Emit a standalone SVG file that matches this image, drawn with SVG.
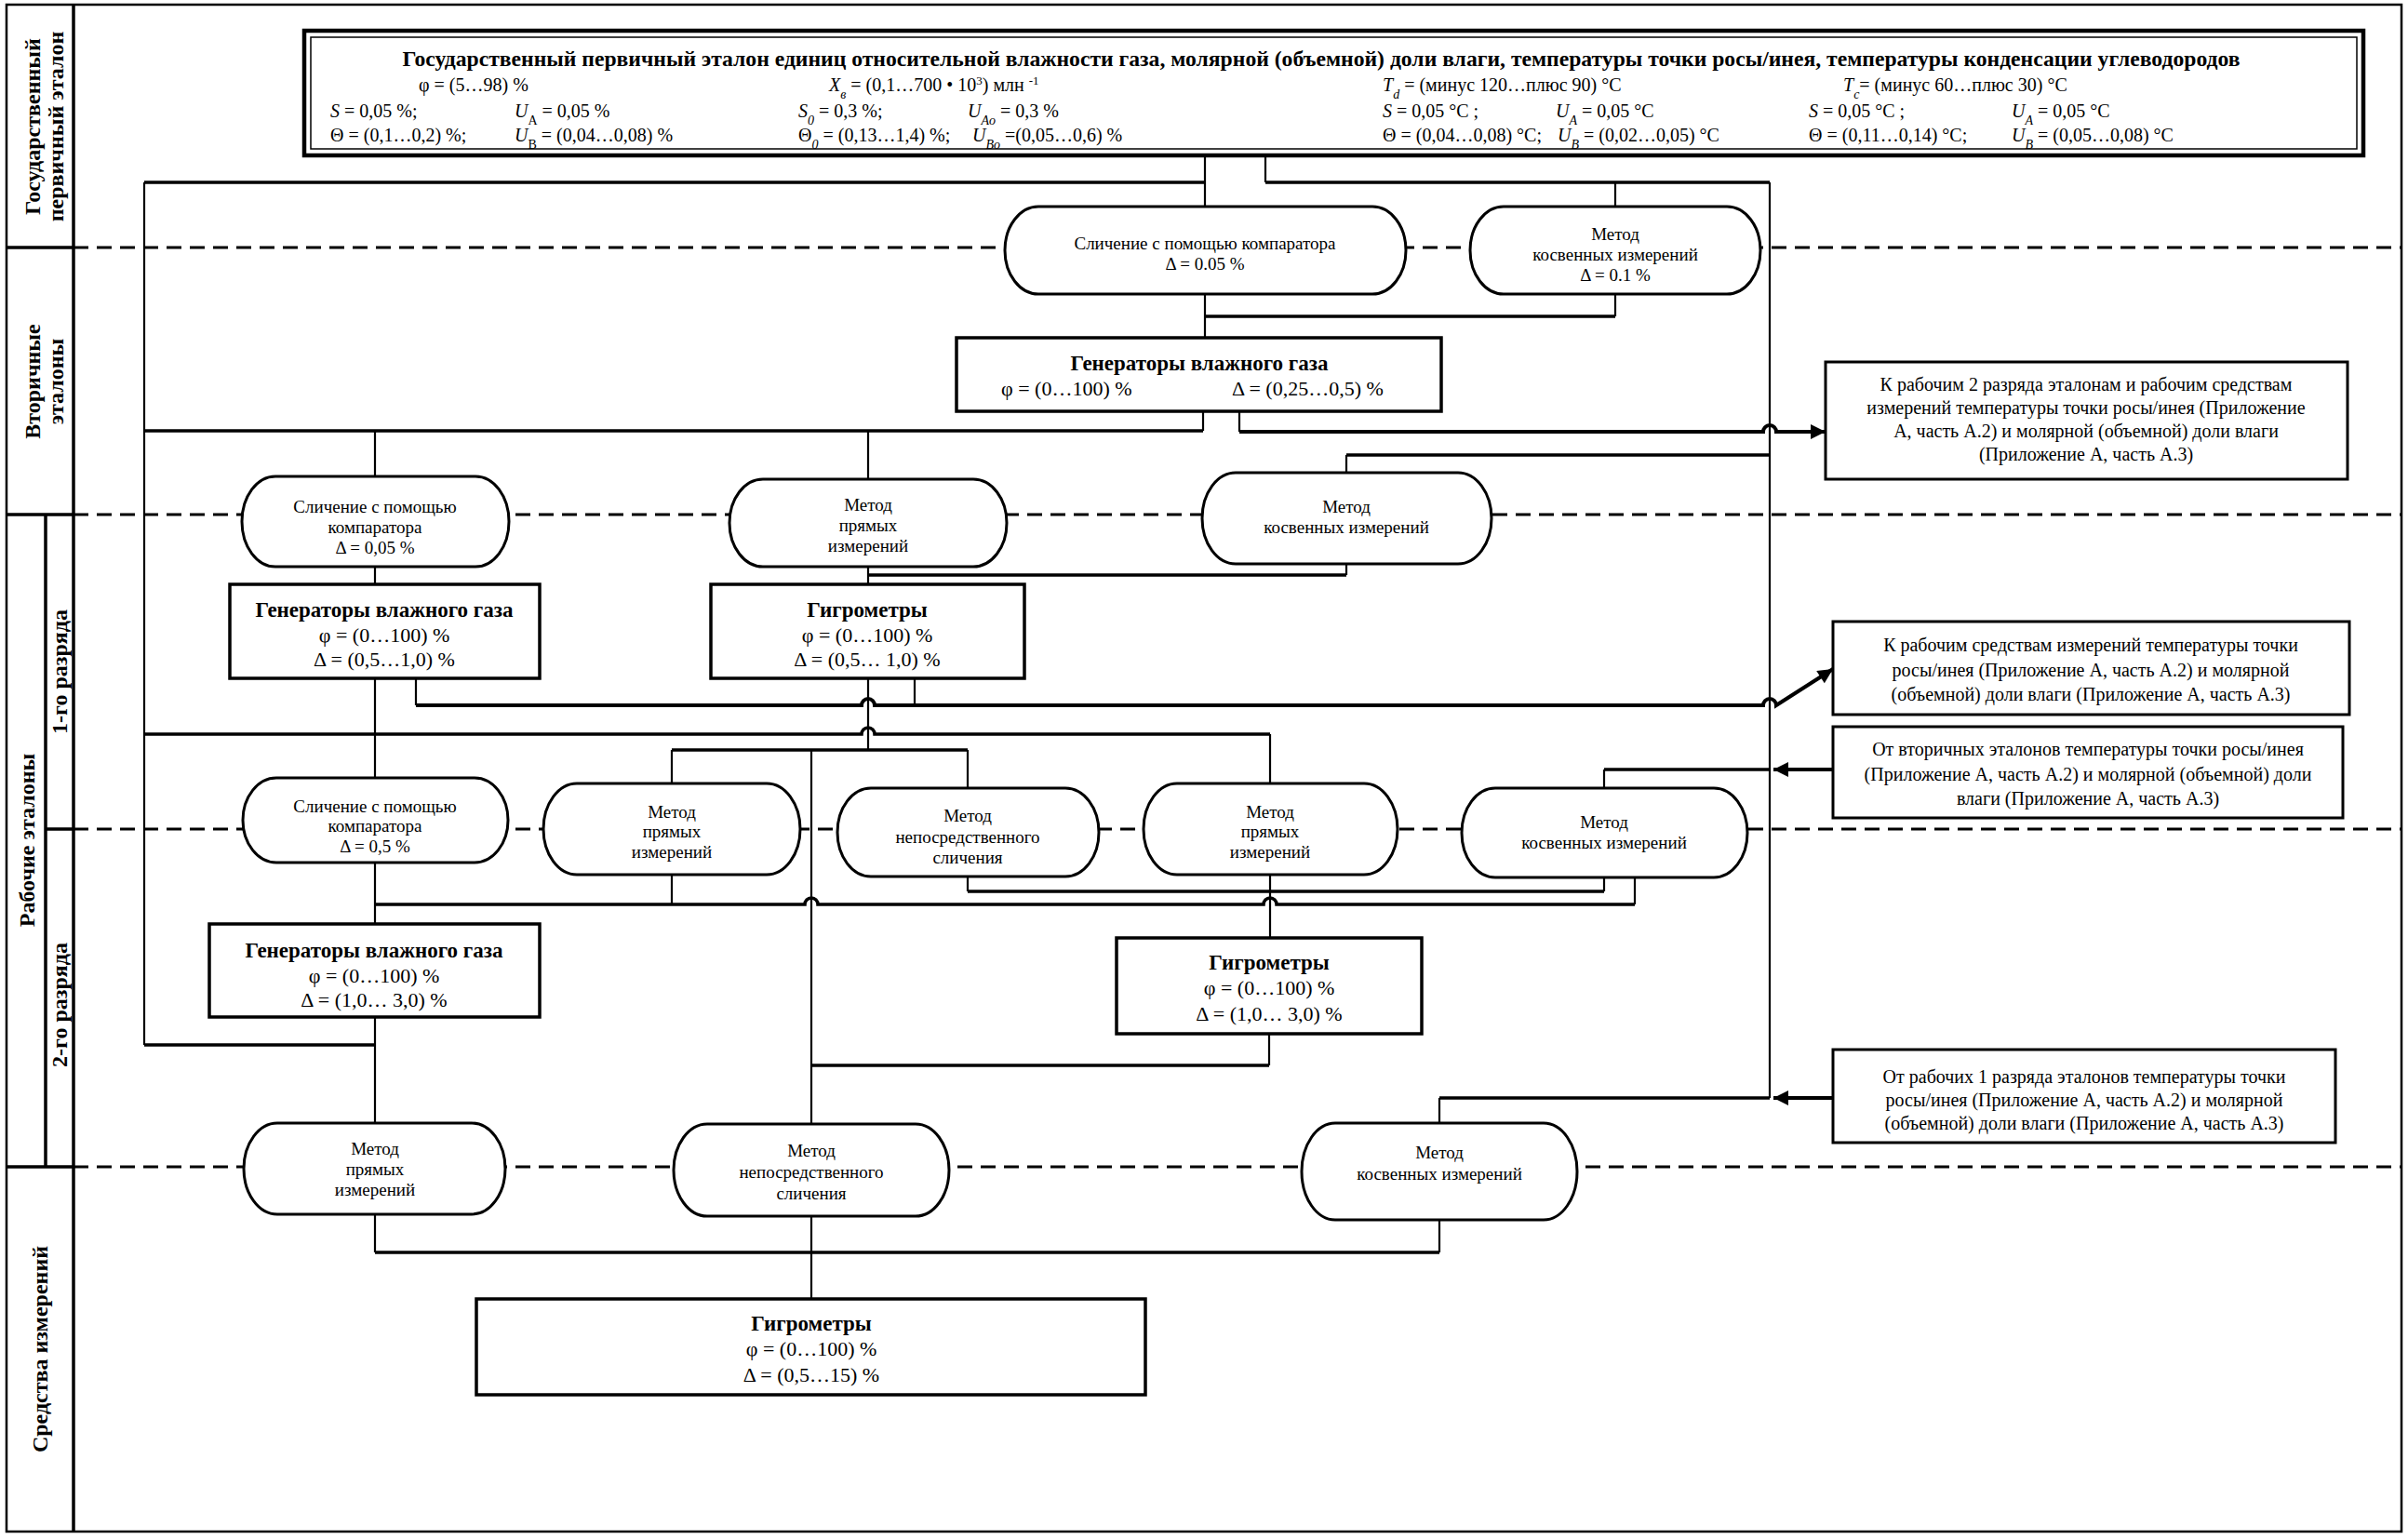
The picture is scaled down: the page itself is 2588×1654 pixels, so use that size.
<svg xmlns="http://www.w3.org/2000/svg" width="2588" height="1654" viewBox="0 0 2588 1654">
<style>
text{font-family:"Liberation Serif","Times New Roman",serif;fill:#000}
.h{font-size:20px}
.hb{font-size:23px;font-weight:bold}
.o{font-size:19px;text-anchor:middle}
.bt{font-size:23px;font-weight:bold;text-anchor:middle}
.bv{font-size:22px;text-anchor:middle}
.r{font-size:20px;text-anchor:middle}
.lab{font-size:24px;font-weight:bold;text-anchor:middle}
.i{font-style:italic}
.sub{baseline-shift:sub;font-size:14px}
.sup{baseline-shift:super;font-size:13px}
.frame{fill:none;stroke:#000;stroke-width:2.5}
.col{fill:none;stroke:#000;stroke-width:3.5}
.dash{fill:none;stroke:#000;stroke-width:3;stroke-dasharray:16 9}
.oval{fill:#fff;stroke:#000;stroke-width:3}
.box{fill:#fff;stroke:#000;stroke-width:3.5}
.rbox{fill:#fff;stroke:#000;stroke-width:3}
.ch{fill:none;stroke:#000;stroke-width:3.5}
.cv{fill:none;stroke:#000;stroke-width:2.2}
.ar{fill:none;stroke:#000;stroke-width:4}
</style>
<defs>
<marker id="arr" viewBox="0 0 10 10" refX="10" refY="5" markerWidth="20" markerHeight="16" markerUnits="userSpaceOnUse" orient="auto">
<path d="M0,0 L10,5 L0,10 z" fill="#000"/>
</marker>
</defs>

<g id="frame">
<rect class="frame" x="7" y="5" width="2574" height="1641"/>
<line class="col" x1="79" y1="5" x2="79" y2="1646"/>
<line class="col" x1="7" y1="266" x2="79" y2="266"/>
<line class="col" x1="7" y1="553" x2="79" y2="553"/>
<line class="col" x1="7" y1="1254" x2="79" y2="1254"/>
<line class="col" x1="49" y1="553" x2="49" y2="1254"/>
<line class="col" x1="49" y1="891" x2="79" y2="891"/>
<text class="lab" transform="translate(43,136) rotate(-90)">Государственный</text>
<text class="lab" transform="translate(68,136) rotate(-90)">первичный эталон</text>
<text class="lab" transform="translate(43,410) rotate(-90)">Вторичные</text>
<text class="lab" transform="translate(68,410) rotate(-90)">эталоны</text>
<text class="lab" transform="translate(37,903) rotate(-90)">Рабочие эталоны</text>
<text class="lab" transform="translate(72,722) rotate(-90)">1-го разряда</text>
<text class="lab" transform="translate(72,1080) rotate(-90)">2-го разряда</text>
<text class="lab" transform="translate(51,1450) rotate(-90)">Средства измерений</text>
</g>

<g id="levels">
<line class="dash" x1="79" y1="266" x2="2581" y2="266"/>
<line class="dash" x1="79" y1="553" x2="2581" y2="553"/>
<line class="dash" x1="79" y1="891" x2="2581" y2="891"/>
<line class="dash" x1="79" y1="1254" x2="2581" y2="1254"/>
</g>

<g id="connectors">
<path class="cv" d="M1295,167 V222"/>
<path class="ch" d="M155,196 H1295"/>
<path class="cv" d="M1360,167 V196"/>
<path class="ch" d="M1360,196 H1902"/>
<path class="cv" d="M1736,196 V222"/>
<path class="cv" d="M1902,196 V1180"/>
<path class="cv" d="M155,196 V1123"/>
<path class="cv" d="M1295,316 V363"/>
<path class="cv" d="M1736,316 V340"/>
<path class="ch" d="M1295,340 H1736"/>
<path class="cv" d="M1293,442 V463"/>
<path class="ch" d="M155,463 H1293"/>
<path class="cv" d="M1332,442 V464"/>
<path class="ar" d="M1332,464 H1895 a7,7 0 0 1 14,0 H1962" marker-end="url(#arr)"/>
<path class="cv" d="M403,463 V512"/>
<path class="cv" d="M933,463 V515"/>
<path class="cv" d="M403,609 V628"/>
<path class="cv" d="M933,608 V628"/>
<path class="ch" d="M933,618 H1447"/>
<path class="cv" d="M1447,606 V618"/>
<path class="cv" d="M1447,489 V508"/>
<path class="ch" d="M1447,489 H1902"/>
<path class="cv" d="M403,729 V836"/>
<path class="cv" d="M447,729 V758"/>
<path class="ar" d="M447,758 H926 a7,7 0 0 1 14,0 H1895 a7,7 0 0 1 14,0 L1970,719" marker-end="url(#arr)"/>
<path class="cv" d="M983,729 V758"/>
<path class="cv" d="M933,729 V806"/>
<path class="ch" d="M155,789 H926 a7,7 0 0 1 14,0 H1365"/>
<path class="cv" d="M1365,789 V842"/>
<path class="ch" d="M722,806 H1040"/>
<path class="cv" d="M722,806 V842"/>
<path class="cv" d="M1040,806 V847"/>
<path class="cv" d="M872,806 V1208"/>
<path class="ar" d="M1970,827 H1906" marker-end="url(#arr)"/>
<path class="ch" d="M1902,827 H1724"/>
<path class="cv" d="M1724,827 V847"/>
<path class="cv" d="M403,927 V993"/>
<path class="cv" d="M722,940 V972"/>
<path class="cv" d="M1040,942 V958"/>
<path class="cv" d="M1365,940 V1008"/>
<path class="cv" d="M1724,943 V958"/>
<path class="cv" d="M1757,943 V972"/>
<path class="ch" d="M1040,958 H1724"/>
<path class="ch" d="M403,972 H865 a7,7 0 0 1 14,0 H1358 a7,7 0 0 1 14,0 H1757"/>
<path class="cv" d="M403,1093 V1207"/>
<path class="ch" d="M155,1123 H403"/>
<path class="cv" d="M1364,1111 V1145"/>
<path class="ch" d="M872,1145 H1364"/>
<path class="ar" d="M1970,1180 H1906" marker-end="url(#arr)"/>
<path class="ch" d="M1902,1180 H1547"/>
<path class="cv" d="M1547,1180 V1207"/>
<path class="cv" d="M403,1305 V1346"/>
<path class="cv" d="M1547,1311 V1346"/>
<path class="ch" d="M403,1346 H1547"/>
<path class="cv" d="M872,1307 V1396"/>
</g>

<g id="primary">
<rect x="327" y="33" width="2213" height="134" fill="#fff" stroke="#000" stroke-width="4.5"/>
<rect x="334" y="40" width="2199" height="120" fill="none" stroke="#000" stroke-width="1.5"/>
<text class="hb" x="1420" y="71" text-anchor="middle" textLength="1975" lengthAdjust="spacingAndGlyphs">Государственный первичный эталон единиц относительной влажности газа, молярной (объемной) доли влаги, температуры точки росы/инея, температуры конденсации углеводородов</text>
<text class="h" x="450" y="98">φ = (5…98) %</text>
<text class="h" x="891" y="98"><tspan class="i">X</tspan><tspan class="sub i">в</tspan> = (0,1…700 • 10<tspan class="sup">3</tspan>) млн <tspan class="sup">-1</tspan></text>
<text class="h" x="1486" y="98"><tspan class="i">T</tspan><tspan class="sub i">d</tspan> = (минус 120…плюс 90) °C</text>
<text class="h" x="1981" y="98"><tspan class="i">T</tspan><tspan class="sub i">c</tspan>= (минус 60…плюс 30) °C</text>
<text class="h" x="355" y="126"><tspan class="i">S</tspan> = 0,05 %;</text>
<text class="h" x="553" y="126"><tspan class="i">U</tspan><tspan class="sub">A</tspan> = 0,05 %</text>
<text class="h" x="858" y="126"><tspan class="i">S</tspan><tspan class="sub i">0</tspan> =   0,3 %;</text>
<text class="h" x="1040" y="126"><tspan class="i">U</tspan><tspan class="sub i">Ao</tspan> = 0,3 %</text>
<text class="h" x="1486" y="126"><tspan class="i">S</tspan> = 0,05 °C ;</text>
<text class="h" x="1672" y="126"><tspan class="i">U</tspan><tspan class="sub i">A</tspan> = 0,05 °C</text>
<text class="h" x="1944" y="126"><tspan class="i">S</tspan> = 0,05 °C ;</text>
<text class="h" x="2162" y="126"><tspan class="i">U</tspan><tspan class="sub i">A</tspan> = 0,05 °C</text>
<text class="h" x="355" y="152">Θ = (0,1…0,2) %;</text>
<text class="h" x="553" y="152"><tspan class="i">U</tspan><tspan class="sub">B</tspan> = (0,04…0,08) %</text>
<text class="h" x="858" y="152">Θ<tspan class="sub i">0</tspan> = (0,13…1,4) %;</text>
<text class="h" x="1045" y="152"><tspan class="i">U</tspan><tspan class="sub i">Bo</tspan> =(0,05…0,6) %</text>
<text class="h" x="1486" y="152">Θ = (0,04…0,08) °C;</text>
<text class="h" x="1674" y="152"><tspan class="i">U</tspan><tspan class="sub i">B</tspan> = (0,02…0,05) °C</text>
<text class="h" x="1944" y="152">Θ = (0,11…0,14) °C;</text>
<text class="h" x="2162" y="152"><tspan class="i">U</tspan><tspan class="sub i">B</tspan> = (0,05…0,08) °C</text>
</g>

<g id="sec-comparator">
<rect class="oval" x="1080" y="222" width="431" height="94" rx="36" ry="47"/>
<text class="o" x="1295" y="268">Сличение с помощью компаратора</text>
<text class="o" x="1295" y="290">Δ = 0.05 %</text>
</g>
<g id="sec-indirect">
<rect class="oval" x="1580" y="222" width="312" height="94" rx="36" ry="47"/>
<text class="o" x="1736" y="258">Метод</text>
<text class="o" x="1736" y="280">косвенных измерений</text>
<text class="o" x="1736" y="302">Δ = 0.1 %</text>
</g>
<g id="sec-generators">
<rect class="box" x="1028" y="363" width="521" height="79"/>
<text class="bt" x="1289" y="398">Генераторы влажного газа</text>
<text class="h" x="1076" y="425" style="font-size:22px">φ = (0…100) %</text>
<text class="h" x="1324" y="425" style="font-size:22px">Δ = (0,25…0,5) %</text>
</g>

<g id="w1-comparator">
<rect class="oval" x="260" y="512" width="287" height="97" rx="36" ry="48.5"/>
<text class="o" x="403" y="551">Сличение с помощью</text>
<text class="o" x="403" y="573">компаратора</text>
<text class="o" x="403" y="595">Δ  =  0,05 %</text>
</g>
<g id="w1-direct">
<rect class="oval" x="784" y="515" width="298" height="94" rx="36" ry="47"/>
<text class="o" x="933" y="549">Метод</text>
<text class="o" x="933" y="571">прямых</text>
<text class="o" x="933" y="593">измерений</text>
</g>
<g id="w1-indirect">
<rect class="oval" x="1292" y="508" width="311" height="98" rx="36" ry="49"/>
<text class="o" x="1447" y="551">Метод</text>
<text class="o" x="1447" y="573">косвенных измерений</text>
</g>
<g id="w1-generators">
<rect class="box" x="247" y="628" width="333" height="101"/>
<text class="bt" x="413" y="663">Генераторы влажного газа</text>
<text class="bv" x="413" y="690">φ = (0…100) %</text>
<text class="bv" x="413" y="716">Δ = (0,5…1,0) %</text>
</g>
<g id="w1-hygrometers">
<rect class="box" x="764" y="628" width="337" height="101"/>
<text class="bt" x="932" y="663">Гигрометры</text>
<text class="bv" x="932" y="690">φ = (0…100) %</text>
<text class="bv" x="932" y="716">Δ = (0,5… 1,0) %</text>
</g>

<g id="w2-comparator">
<rect class="oval" x="261" y="836" width="285" height="91" rx="36" ry="45.5"/>
<text class="o" x="403" y="873">Сличение с помощью</text>
<text class="o" x="403" y="894">компаратора</text>
<text class="o" x="403" y="916">Δ  =  0,5 %</text>
</g>
<g id="w2-direct-a">
<rect class="oval" x="584" y="842" width="276" height="98" rx="36" ry="49"/>
<text class="o" x="722" y="879">Метод</text>
<text class="o" x="722" y="900">прямых</text>
<text class="o" x="722" y="922">измерений</text>
</g>
<g id="w2-immediate">
<rect class="oval" x="900" y="847" width="281" height="95" rx="36" ry="47.5"/>
<text class="o" x="1040" y="883">Метод</text>
<text class="o" x="1040" y="906">непосредственного</text>
<text class="o" x="1040" y="928">сличения</text>
</g>
<g id="w2-direct-b">
<rect class="oval" x="1229" y="842" width="273" height="98" rx="36" ry="49"/>
<text class="o" x="1365" y="879">Метод</text>
<text class="o" x="1365" y="900">прямых</text>
<text class="o" x="1365" y="922">измерений</text>
</g>
<g id="w2-indirect">
<rect class="oval" x="1571" y="847" width="307" height="96" rx="36" ry="48"/>
<text class="o" x="1724" y="890">Метод</text>
<text class="o" x="1724" y="912">косвенных измерений</text>
</g>
<g id="w2-generators">
<rect class="box" x="225" y="993" width="355" height="100"/>
<text class="bt" x="402" y="1029">Генераторы влажного газа</text>
<text class="bv" x="402" y="1056">φ = (0…100) %</text>
<text class="bv" x="402" y="1082">Δ = (1,0… 3,0) %</text>
</g>
<g id="w2-hygrometers">
<rect class="box" x="1200" y="1008" width="328" height="103"/>
<text class="bt" x="1364" y="1042">Гигрометры</text>
<text class="bv" x="1364" y="1069">φ = (0…100) %</text>
<text class="bv" x="1364" y="1097">Δ = (1,0… 3,0) %</text>
</g>

<g id="m-direct">
<rect class="oval" x="262" y="1207" width="281" height="98" rx="36" ry="49"/>
<text class="o" x="403" y="1241">Метод</text>
<text class="o" x="403" y="1263">прямых</text>
<text class="o" x="403" y="1285">измерений</text>
</g>
<g id="m-immediate">
<rect class="oval" x="724" y="1208" width="296" height="99" rx="36" ry="49.5"/>
<text class="o" x="872" y="1243">Метод</text>
<text class="o" x="872" y="1266">непосредственного</text>
<text class="o" x="872" y="1289">сличения</text>
</g>
<g id="m-indirect">
<rect class="oval" x="1399" y="1207" width="296" height="104" rx="36" ry="52"/>
<text class="o" x="1547" y="1245">Метод</text>
<text class="o" x="1547" y="1268">косвенных измерений</text>
</g>
<g id="m-hygrometers">
<rect class="box" x="512" y="1396" width="719" height="103"/>
<text class="bt" x="872" y="1430">Гигрометры</text>
<text class="bv" x="872" y="1457">φ = (0…100) %</text>
<text class="bv" x="872" y="1485">Δ = (0,5…15) %</text>
</g>

<g id="note-1">
<rect class="rbox" x="1962" y="389" width="561" height="126"/>
<text class="r" x="2242" y="420">К рабочим 2 разряда эталонам и рабочим средствам</text>
<text class="r" x="2242" y="445">измерений температуры точки росы/инея (Приложение</text>
<text class="r" x="2242" y="470">А, часть А.2) и молярной (объемной) доли влаги</text>
<text class="r" x="2242" y="495">(Приложение А, часть А.3)</text>
</g>
<g id="note-2">
<rect class="rbox" x="1970" y="668" width="555" height="100"/>
<text class="r" x="2247" y="700">К рабочим средствам измерений температуры точки</text>
<text class="r" x="2247" y="727">росы/инея (Приложение А, часть А.2) и молярной</text>
<text class="r" x="2247" y="753">(объемной) доли влаги (Приложение А, часть А.3)</text>
</g>
<g id="note-3">
<rect class="rbox" x="1970" y="781" width="548" height="98"/>
<text class="r" x="2244" y="812">От вторичных эталонов температуры точки росы/инея</text>
<text class="r" x="2244" y="839">(Приложение А, часть А.2) и молярной (объемной) доли</text>
<text class="r" x="2244" y="865">влаги (Приложение А, часть А.3)</text>
</g>
<g id="note-4">
<rect class="rbox" x="1970" y="1128" width="540" height="100"/>
<text class="r" x="2240" y="1164">От рабочих 1 разряда эталонов температуры точки</text>
<text class="r" x="2240" y="1189">росы/инея (Приложение А, часть А.2) и молярной</text>
<text class="r" x="2240" y="1214">(объемной) доли влаги (Приложение А, часть А.3)</text>
</g>
</svg>
